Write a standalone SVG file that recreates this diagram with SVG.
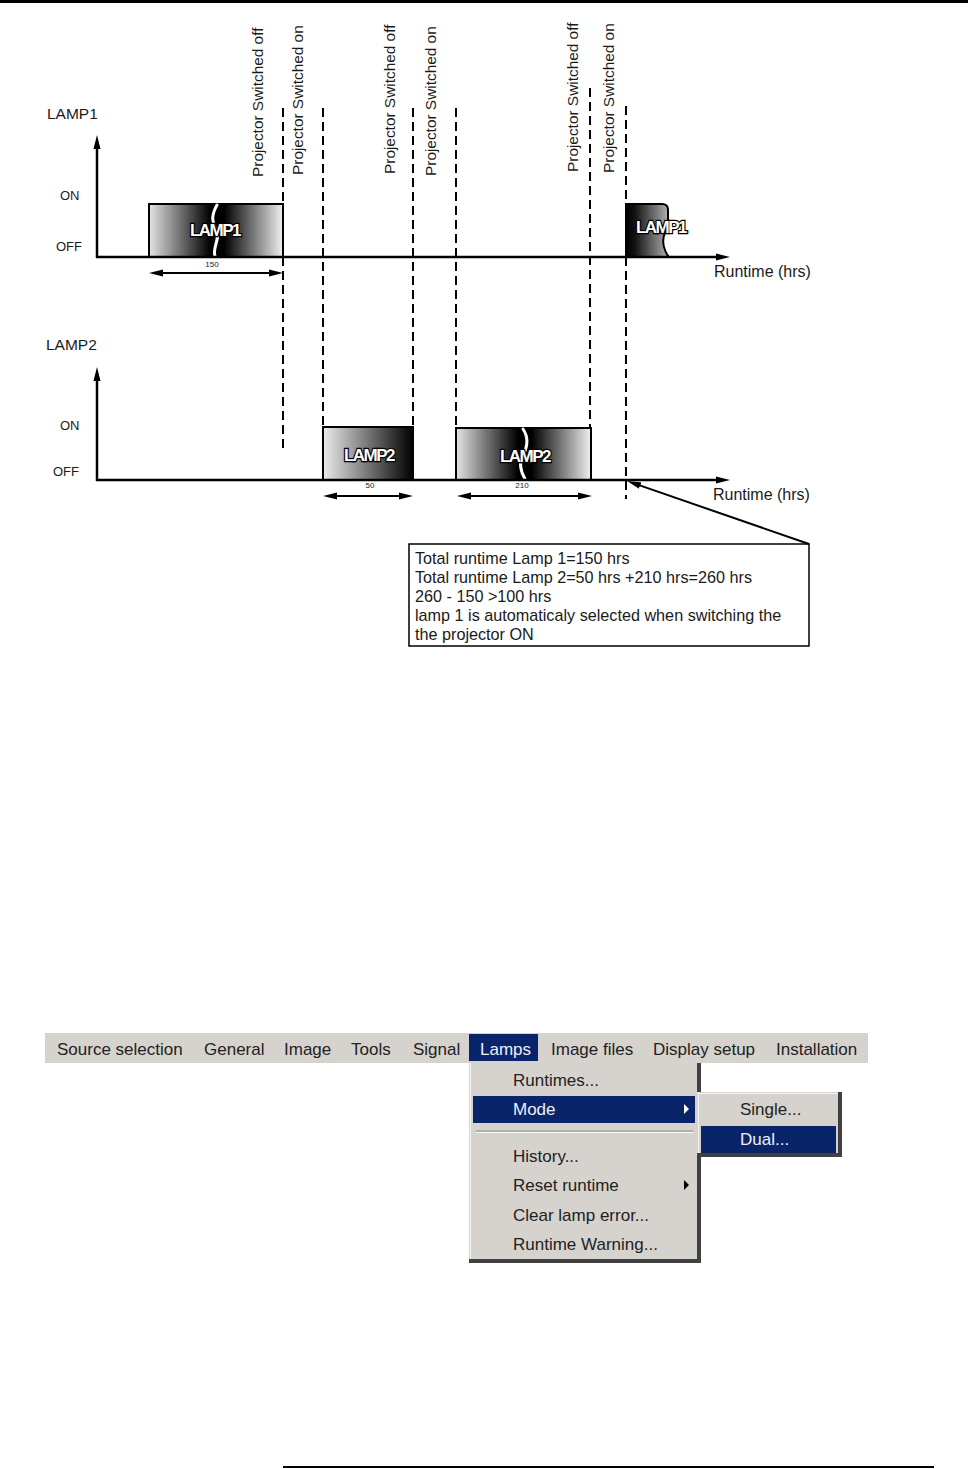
<svg xmlns="http://www.w3.org/2000/svg" width="968" height="1469" viewBox="0 0 968 1469">
<style>
.t{font-family:"Liberation Sans",Arial,sans-serif;fill:#1a1a1a}
.vl{font-size:15.4px}
.ax{stroke:#000;stroke-width:2.5;fill:none}
.dash{stroke:#000;stroke-width:2;stroke-dasharray:9 5;fill:none}
.bx{stroke:#000;stroke-width:2}
.lt{font-family:"Liberation Sans",Arial,sans-serif;font-weight:bold;font-size:17px;fill:#fff;stroke:#000;stroke-width:2.4;paint-order:stroke;letter-spacing:-1.5px;text-anchor:middle}
.dim{stroke:#000;stroke-width:2;fill:none}
.small{font-size:8px;text-anchor:middle}
.crack{stroke:#fff;stroke-width:3;fill:none;stroke-linecap:round}
.m{font-family:"Liberation Sans",Arial,sans-serif;font-size:17px;fill:#222}
.mh{font-family:"Liberation Sans",Arial,sans-serif;font-size:17px;fill:#eef0f8}
</style>
<defs>
<marker id="ah" markerUnits="userSpaceOnUse" markerWidth="15" markerHeight="8" refX="2" refY="4" orient="auto-start-reverse">
<path d="M0,0.5 L14,4 L0,7.5 z" fill="#000"/>
</marker>
<linearGradient id="gSplit" x1="0" y1="0" x2="1" y2="0">
<stop offset="0" stop-color="#e4e4e4"/>
<stop offset="0.46" stop-color="#000"/>
<stop offset="0.56" stop-color="#000"/>
<stop offset="1" stop-color="#f0f0f0"/>
</linearGradient>
<linearGradient id="gUp" x1="0" y1="0" x2="1" y2="0">
<stop offset="0" stop-color="#ececec"/>
<stop offset="1" stop-color="#000"/>
</linearGradient>
<linearGradient id="gDown" x1="0" y1="0" x2="1" y2="0">
<stop offset="0" stop-color="#000"/>
<stop offset="0.2" stop-color="#111"/>
<stop offset="1" stop-color="#b4b4b4"/>
</linearGradient>
</defs>
<rect width="968" height="1469" fill="#fff"/>
<rect x="0" y="0" width="968" height="3" fill="#000"/>
<rect x="283" y="1466" width="651" height="2" fill="#000"/>

<g id="event-labels" class="t vl">
<text transform="translate(263,177) rotate(-90)">Projector Switched off</text>
<text transform="translate(303,175) rotate(-90)">Projector Switched on</text>
<text transform="translate(395,174) rotate(-90)">Projector Switched off</text>
<text transform="translate(436,176) rotate(-90)">Projector Switched on</text>
<text transform="translate(578,172) rotate(-90)">Projector Switched off</text>
<text transform="translate(614,173) rotate(-90)">Projector Switched on</text>
</g>

<g id="lamp1-chart">
<text class="t" x="47" y="119" font-size="15.5">LAMP1</text>
<text class="t" x="60" y="200" font-size="13">ON</text>
<text class="t" x="56" y="251" font-size="13">OFF</text>
<text class="t" x="714" y="277" font-size="16">Runtime (hrs)</text>
</g>

<g id="lamp1-run1">
<rect class="bx" x="149" y="204" width="134" height="53" fill="url(#gSplit)"/>
<path class="crack" d="M217,205 C212,214 211,221 216,230 C221,239 212,247 215,256"/>
<text class="lt" x="215" y="236">LAMP1</text>
<text class="t small" x="212" y="267">150</text>
</g>

<g id="lamp1-run2">
<path class="bx" d="M626,204 L662,204 Q668,204 668,210 L668,222 Q668,229 665,233 Q662,239 664,247 Q666,254 669,257 L626,257 Z" fill="url(#gDown)"/>
<text class="lt" x="661" y="233">LAMP1</text>
</g>

<g id="lamp2-chart">
<text class="t" x="46" y="350" font-size="15.5">LAMP2</text>
<text class="t" x="60" y="430" font-size="13">ON</text>
<text class="t" x="53" y="476" font-size="13">OFF</text>
<text class="t" x="713" y="500" font-size="16">Runtime (hrs)</text>
</g>

<g id="lamp2-run1">
<rect class="bx" x="323" y="427" width="90" height="53" fill="url(#gUp)"/>
<text class="lt" x="369" y="461">LAMP2</text>
<text class="t small" x="370" y="488">50</text>
</g>

<g id="lamp2-run2">
<rect class="bx" x="456" y="428" width="135" height="52" fill="url(#gSplit)"/>
<path class="crack" d="M523,429 C529,438 528,446 523,455 C518,464 521,472 525,479"/>
<text class="lt" x="525" y="462">LAMP2</text>
<text class="t small" x="522" y="488">210</text>
</g>

<g id="note">
<rect x="409" y="544" width="400" height="102" fill="#fff" stroke="#000" stroke-width="1.5"/>
<g class="t" font-size="16.2">
<text x="415" y="564">Total runtime Lamp 1=150 hrs</text>
<text x="415" y="583">Total runtime Lamp 2=50 hrs +210 hrs=260 hrs</text>
<text x="415" y="602">260 - 150 &gt;100 hrs</text>
<text x="415" y="621">lamp 1 is automaticaly selected when switching the</text>
<text x="415" y="640">the projector ON</text>
</g>
</g>

<g id="connectors">
<line class="ax" x1="96" y1="257" x2="718" y2="257" marker-end="url(#ah)"/>
<line class="ax" x1="97" y1="258" x2="97" y2="147" marker-end="url(#ah)"/>
<line class="ax" x1="96" y1="480" x2="718" y2="480" marker-end="url(#ah)"/>
<line class="ax" x1="97" y1="481" x2="97" y2="379" marker-end="url(#ah)"/>
<line class="dash" x1="283" y1="108" x2="283" y2="204"/>
<line class="dash" x1="283" y1="257" x2="283" y2="449"/>
<line class="dash" x1="323" y1="108" x2="323" y2="427"/>
<line class="dash" x1="413" y1="108" x2="413" y2="427"/>
<line class="dash" x1="456" y1="108" x2="456" y2="428"/>
<line class="dash" x1="590" y1="88" x2="590" y2="428"/>
<line class="dash" x1="626" y1="106" x2="626" y2="204"/>
<line class="dash" x1="626" y1="257" x2="626" y2="499"/>
<line class="dim" x1="161" y1="273" x2="271" y2="273" marker-start="url(#ah)" marker-end="url(#ah)"/>
<line class="dim" x1="335" y1="496" x2="401" y2="496" marker-start="url(#ah)" marker-end="url(#ah)"/>
<line class="dim" x1="469" y1="496" x2="580" y2="496" marker-start="url(#ah)" marker-end="url(#ah)"/>
<line class="dim" x1="809" y1="544" x2="638.3" y2="484.9" marker-end="url(#ah)"/>
</g>

<g id="menu-bar">
<rect x="45" y="1033" width="823" height="30" fill="#d6d3ce"/>
<rect x="469" y="1034" width="69" height="27" fill="#0a246a"/>
<text class="m" x="57" y="1055">Source selection</text>
<text class="m" x="204" y="1055">General</text>
<text class="m" x="284" y="1055">Image</text>
<text class="m" x="351" y="1055">Tools</text>
<text class="m" x="413" y="1055">Signal</text>
<text class="mh" x="480" y="1055">Lamps</text>
<text class="m" x="551" y="1055">Image files</text>
<text class="m" x="653" y="1055">Display setup</text>
<text class="m" x="776" y="1055">Installation</text>
</g>

<g id="lamps-menu">
<rect x="469" y="1063" width="232" height="200" fill="#404040"/>
<rect x="469" y="1063" width="228" height="196" fill="#d6d3ce"/>
<line x1="470.5" y1="1063" x2="470.5" y2="1259" stroke="#f4f4f4" stroke-width="1"/>
<rect x="473" y="1096" width="222" height="27" fill="#0a246a"/>
<line x1="476" y1="1131" x2="693" y2="1131" stroke="#8a8a8a" stroke-width="1"/>
<line x1="476" y1="1132.5" x2="693" y2="1132.5" stroke="#fafafa" stroke-width="1"/>
<text class="m" x="513" y="1086">Runtimes...</text>
<text class="mh" x="513" y="1115">Mode</text>
<polygon points="684,1104 689,1109 684,1114" fill="#fff"/>
<text class="m" x="513" y="1162">History...</text>
<text class="m" x="513" y="1191">Reset runtime</text>
<polygon points="684,1180 689,1185 684,1190" fill="#000"/>
<text class="m" x="513" y="1221">Clear lamp error...</text>
<text class="m" x="513" y="1250">Runtime Warning...</text>
</g>

<g id="mode-submenu">
<rect x="697" y="1092" width="145" height="65" fill="#404040"/>
<rect x="697" y="1092" width="141" height="61" fill="#d6d3ce"/>
<line x1="698.5" y1="1092" x2="698.5" y2="1153" stroke="#f4f4f4" stroke-width="1"/>
<line x1="697" y1="1093.5" x2="838" y2="1093.5" stroke="#f4f4f4" stroke-width="1"/>
<rect x="701" y="1126" width="135" height="27" fill="#0a246a"/>
<text class="m" x="740" y="1115">Single...</text>
<text class="mh" x="740" y="1145">Dual...</text>
</g>
</svg>
